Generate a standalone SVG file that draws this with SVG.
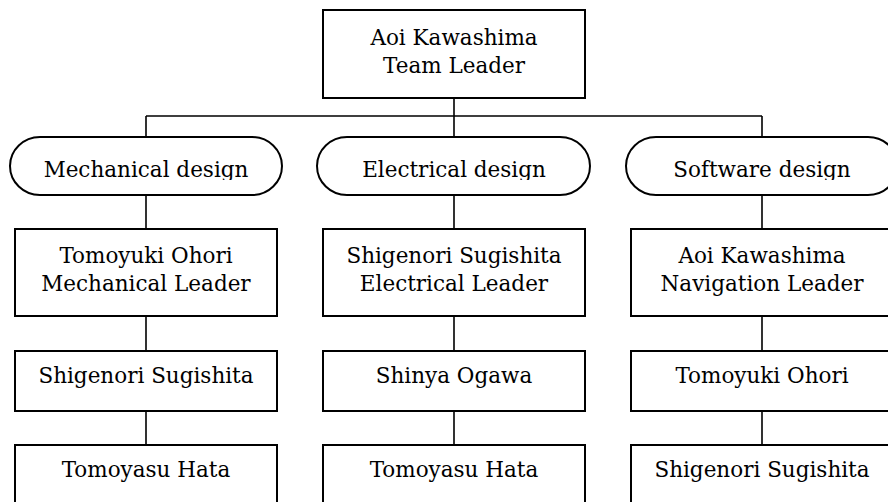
<svg xmlns="http://www.w3.org/2000/svg" width="888" height="502" viewBox="0 0 888 502">
<style>
.box{fill:#fff;stroke:#000;stroke-width:2}
.t{font-family:"DejaVu Serif","Liberation Serif",serif;font-size:21.5px;fill:#000;text-anchor:middle}
.c{stroke:#000;stroke-width:1.6;fill:none}
</style>
<defs>
<clipPath id="sclip"><rect x="0" y="130" width="888" height="50"/></clipPath>
</defs>
<rect width="888" height="502" fill="#fff"/>
<g id="connectors">
<path class="c" d="M454 98V137M146 116H762M146 116V137M762 116V137"/>
<path class="c" d="M146 195V229M146 316V351M146 411V445"/>
<path class="c" d="M454 195V229M454 316V351M454 411V445"/>
<path class="c" d="M762 195V229M762 316V351M762 411V445"/>
</g>
<g id="leader">
<rect class="box" x="323" y="10" width="262" height="88"/>
<text class="t" x="454" y="45">Aoi Kawashima</text>
<text class="t" x="454" y="73">Team Leader</text>
</g>
<g id="mech-group">
<rect class="box" x="10" y="137" width="272" height="58" rx="30" ry="29"/>
<text class="t" x="146" y="177" clip-path="url(#sclip)">Mechanical design</text>
</g>
<g id="elec-group">
<rect class="box" x="317" y="137" width="273" height="58" rx="30" ry="29"/>
<text class="t" x="454" y="177" clip-path="url(#sclip)">Electrical design</text>
</g>
<g id="soft-group">
<rect class="box" x="626" y="137" width="272" height="58" rx="30" ry="29"/>
<text class="t" x="762" y="177" clip-path="url(#sclip)">Software design</text>
</g>
<g id="mech-leader">
<rect class="box" x="15" y="229" width="262" height="87"/>
<text class="t" x="146" y="263">Tomoyuki Ohori</text>
<text class="t" x="146" y="291">Mechanical Leader</text>
</g>
<g id="elec-leader">
<rect class="box" x="323" y="229" width="262" height="87"/>
<text class="t" x="454" y="263">Shigenori Sugishita</text>
<text class="t" x="454" y="291">Electrical Leader</text>
</g>
<g id="nav-leader">
<rect class="box" x="631" y="229" width="262" height="87"/>
<text class="t" x="762" y="263">Aoi Kawashima</text>
<text class="t" x="762" y="291">Navigation Leader</text>
</g>
<g id="mech-2">
<rect class="box" x="15" y="351" width="262" height="60"/>
<text class="t" x="146" y="383">Shigenori Sugishita</text>
</g>
<g id="elec-2">
<rect class="box" x="323" y="351" width="262" height="60"/>
<text class="t" x="454" y="383">Shinya Ogawa</text>
</g>
<g id="soft-2">
<rect class="box" x="631" y="351" width="262" height="60"/>
<text class="t" x="762" y="383">Tomoyuki Ohori</text>
</g>
<g id="mech-3">
<rect class="box" x="15" y="445" width="262" height="60"/>
<text class="t" x="146" y="477">Tomoyasu Hata</text>
</g>
<g id="elec-3">
<rect class="box" x="323" y="445" width="262" height="60"/>
<text class="t" x="454" y="477">Tomoyasu Hata</text>
</g>
<g id="soft-3">
<rect class="box" x="631" y="445" width="262" height="60"/>
<text class="t" x="762" y="477">Shigenori Sugishita</text>
</g>
</svg>
